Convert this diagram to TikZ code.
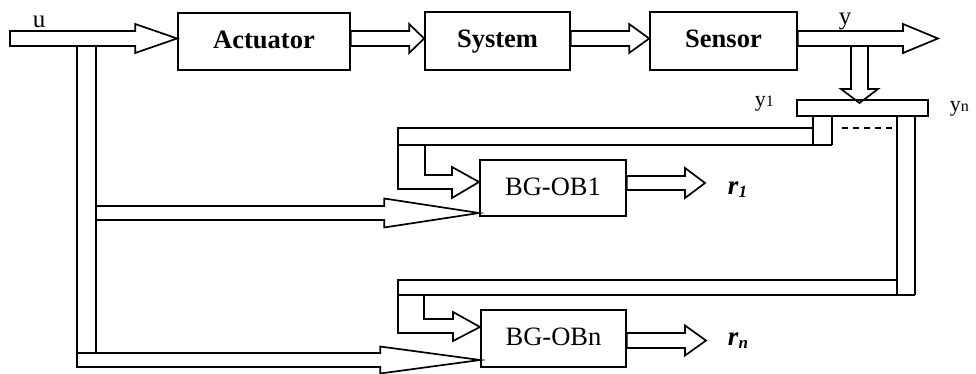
\documentclass[tikz,border=0pt]{standalone}
\usepackage{fontspec}
\setmainfont{Liberation Serif}
\usetikzlibrary{calc}
\newcommand\hollowarrow[5]{% start, tip, shaft half width, head half width, head length
  \draw ($(#1)+(0,-#3)$) -- ($(#2)+(-#5,-#3)$) -- ($(#2)+(-#5,-#4)$) -- (#2)
    -- ($(#2)+(-#5,#4)$) -- ($(#2)+(-#5,#3)$) -- ($(#1)+(0,#3)$) -- cycle;}
\begin{document}
\begin{tikzpicture}[x=1pt,y=-1pt,line width=1.7pt,line join=miter]
\tikzset{
  box/.style={draw,inner sep=0pt,text height=19pt,text depth=5pt,font=\fontsize{26.5}{30}\selectfont},
  lbl/.style={inner sep=0pt,font=\fontsize{25}{28}\selectfont},
  slbl/.style={inner sep=0pt,font=\fontsize{22}{26}\selectfont},
}
\useasboundingbox (0,0) rectangle (976,374);
% blocks
\node[box,minimum width=172pt,minimum height=57pt] (act) at (264,41.5) {\bfseries Actuator};
\node[box,minimum width=145pt,minimum height=58pt] (sys) at (497.5,41) {\bfseries System};
\node[box,minimum width=147pt,minimum height=58pt] (sen) at (723.5,41) {\bfseries Sensor};
\node[box,minimum width=146pt,minimum height=56pt] (ob1) at (553,188) {BG-OB1};
\node[box,minimum width=145pt,minimum height=57pt] (obn) at (553.5,338.5) {BG-OBn};
\node[draw,inner sep=0pt,minimum width=131pt,minimum height=16pt] (bar) at (862.5,108) {};
% top chain
\coordinate (uin) at (10,38.5);
\coordinate (t1) at (act.west |- uin);
\coordinate (s2) at (act.east |- uin);
\coordinate (t2) at (sys.west |- uin);
\coordinate (s3) at (sys.east |- uin);
\coordinate (t3) at (sen.west |- uin);
\coordinate (s4) at (sen.east |- uin);
\coordinate (yout) at (938,38.5);
\hollowarrow{uin}{t1}{7.5}{14.5}{42}
\hollowarrow{s2}{t2}{7.5}{14.5}{15}
\hollowarrow{s3}{t3}{7.5}{14.5}{20}
\hollowarrow{s4}{yout}{7.5}{14.5}{35}
% down arrow into the bar
\coordinate (dsrc) at (859.5,46);
\coordinate (dtip) at (859.5,103);
\draw ($(dsrc)+(-8.5,0)$) -- ($(dtip)+(-8.5,-14)$) -- ($(dtip)+(-18.5,-14)$) -- (dtip)
  -- ($(dtip)+(18.5,-14)$) -- ($(dtip)+(8.5,-14)$) -- ($(dsrc)+(8.5,0)$);
% stub y1 and feedback to BG-OB1
\draw (813,116) -- (813,145);
\draw (832,116) -- (832,145);
\coordinate (f1) at (479,182);
\draw (813,128) -- (398,128) -- (398,189) -- (452,189) -- (452,198) -- (f1)
  -- (452,167) -- (452,175) -- (425,175) -- (425,145);
\draw (398,145) -- (832,145);
\draw[dashed,line width=1.3pt,dash pattern=on 6pt off 5pt] (842,128) -- (892,128);
% yn pipe and feedback to BG-OBn
\draw (897,116) -- (897,295);
\draw (915,116) -- (915,295);
\coordinate (fn) at (480,327);
\draw (897,280) -- (398,280) -- (398,333) -- (453,333) -- (453,341) -- (fn)
  -- (453,312) -- (453,319) -- (424,319) -- (424,295);
\draw (398,295) -- (915,295);
% u branch pipe
\draw (77,46) -- (77,367);
\draw (96,46) -- (96,353);
\coordinate (ub1) at (96,213);
\coordinate (ut1) at (ob1.west |- ub1);
\hollowarrow{ub1}{ut1}{7}{14.5}{95}
\coordinate (ub2) at (77,360);
\coordinate (ut2) at (obn.west |- ub2);
\hollowarrow{ub2}{ut2}{7}{13.5}{100}
% residual outputs
\coordinate (r1tip) at (705,183);
\coordinate (r1s) at (ob1.east |- r1tip);
\hollowarrow{r1s}{r1tip}{7}{15}{20}
\coordinate (rntip) at (706,340.5);
\coordinate (rns) at (obn.east |- rntip);
\hollowarrow{rns}{rntip}{7.5}{15}{21}
% labels
\node[lbl,anchor=base] (lu) at (39,28) {u};
\node[lbl,anchor=base] (ly) at (845,25) {y};
\node[slbl,anchor=base west] (ly1) at (754,107) {y{\fontsize{16}{18}\selectfont 1}};
\node[slbl,anchor=base west] (lyn) at (949,112) {y{\fontsize{16}{18}\selectfont n}};
\node[lbl,anchor=base west] (lr1) at (727,194) {\fontsize{27}{30}\selectfont\textbf{\textit{r}}\raisebox{-3pt}{\fontsize{17}{19}\selectfont\textbf{\textit{1}}}};
\node[lbl,anchor=base west] (lrn) at (727,345) {\fontsize{27}{30}\selectfont\textbf{\textit{r}}\raisebox{-3pt}{\fontsize{17}{19}\selectfont\textbf{\textit{n}}}};
\end{tikzpicture}
\end{document}
